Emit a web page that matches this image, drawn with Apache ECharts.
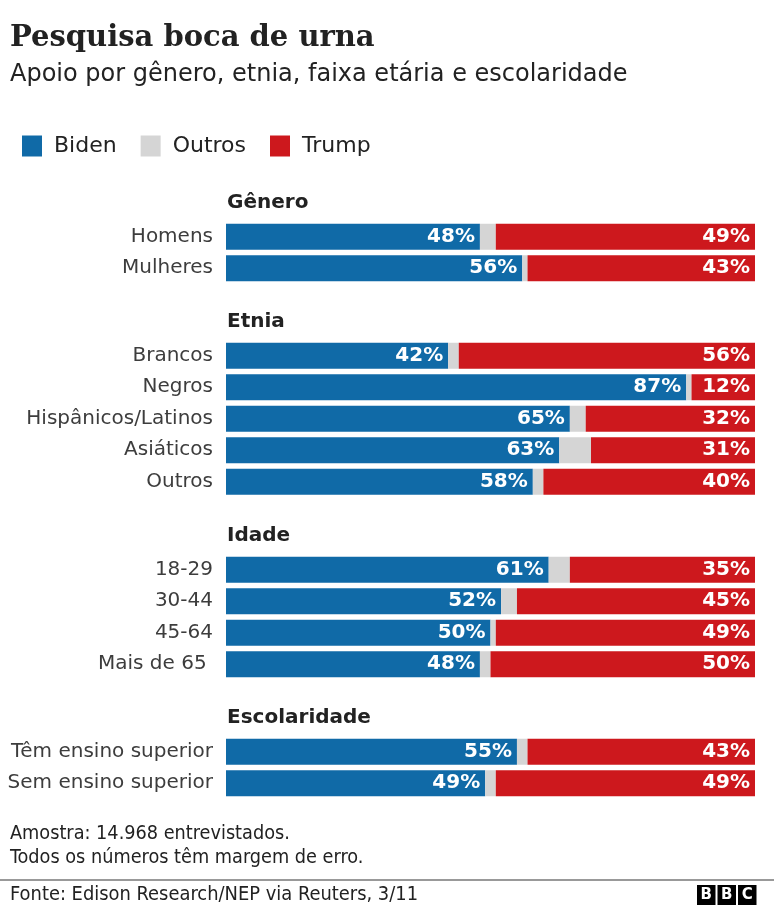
<!DOCTYPE html>
<html><head><meta charset="utf-8">
<script src="https://cdn.jsdelivr.net/npm/echarts@6/dist/echarts.min.js"></script>
<style>html,body{margin:0;padding:0;background:#fff}#c{width:774px;height:907px}</style>
</head><body><div id="c"></div>
<script>
const groupNames = ['Gênero', 'Etnia', 'Idade', 'Escolaridade'];
const generoCats = ['Homens', 'Mulheres'];
const generoBiden = [48, 56];
const generoOutros = [3, 1];
const generoTrump = [49, 43];
const etniaCats = ['Brancos', 'Negros', 'Hispânicos/Latinos', 'Asiáticos', 'Outros'];
const etniaBiden = [42, 87, 65, 63, 58];
const etniaOutros = [2, 1, 3, 6, 2];
const etniaTrump = [56, 12, 32, 31, 40];
const idadeCats = ['18-29', '30-44', '45-64', 'Mais de 65 '];
const idadeBiden = [61, 52, 50, 48];
const idadeOutros = [4, 3, 1, 2];
const idadeTrump = [35, 45, 49, 50];
const escolaCats = ['Têm ensino superior', 'Sem ensino superior'];
const escolaBiden = [55, 49];
const escolaOutros = [2, 2];
const escolaTrump = [43, 49];

const BLUE = '#106aa7', GREY = '#d5d5d5', RED = '#cd181d';
const FONT = '"DejaVu Sans", "Open Sans", sans-serif';
const COND = '"DejaVu Sans Condensed", "Liberation Sans Narrow", Roboto, sans-serif';
const groups = [
  {cats: generoCats, b: generoBiden, o: generoOutros, t: generoTrump, top: 221},
  {cats: etniaCats, b: etniaBiden, o: etniaOutros, t: etniaTrump, top: 340},
  {cats: idadeCats, b: idadeBiden, o: idadeOutros, t: idadeTrump, top: 554},
  {cats: escolaCats, b: escolaBiden, o: escolaOutros, t: escolaTrump, top: 736}
];
const ROW = 31.5;
const grid = [], xAxis = [], yAxis = [], series = [];
const titles = [
  {text: 'Pesquisa boca de urna', left: 10, top: 24, padding: 0, textStyle: {fontFamily: '"DejaVu Serif", serif', fontSize: 29, fontWeight: 'bold', color: '#222'}},
  {text: 'Apoio por gênero, etnia, faixa etária e escolaridade', left: 10, top: 63, padding: 0, textStyle: {fontFamily: FONT, fontSize: 24, fontWeight: 'normal', color: '#222'}},
  {text: 'Amostra: 14.968 entrevistados.', left: 10, top: 824, padding: 0, textStyle: {fontFamily: COND, fontSize: 19.7, fontWeight: 'normal', color: '#222'}},
  {text: 'Todos os números têm margem de erro.', left: 10, top: 848, padding: 0, textStyle: {fontFamily: COND, fontSize: 19.7, fontWeight: 'normal', color: '#222'}},
  {text: 'Fonte: Edison Research/NEP via Reuters, 3/11', left: 10, top: 885, padding: 0, textStyle: {fontFamily: COND, fontSize: 19.9, fontWeight: 'normal', color: '#222'}}
];
const labelStyle = {show: true, position: 'insideRight', distance: 5, color: '#fff', fontFamily: FONT, fontSize: 20, fontWeight: 'bold', formatter: p => p.value + '%'};
groups.forEach((g, i) => {
  grid.push({left: 226, right: 19, top: g.top, height: g.cats.length * ROW});
  titles.push({text: groupNames[i], left: 227, top: g.top - 28, padding: 0, textStyle: {fontFamily: FONT, fontSize: 20, fontWeight: 'bold', color: '#222'}});
  xAxis.push({type: 'value', gridIndex: i, min: 0, max: 100, show: false});
  yAxis.push({type: 'category', gridIndex: i, data: g.cats, inverse: true,
    axisLine: {show: false}, axisTick: {show: false}, splitLine: {show: false},
    axisLabel: {margin: 13, fontFamily: FONT, fontSize: 20, color: '#3d3d3d'}});
  const common = {type: 'bar', stack: 's' + i, xAxisIndex: i, yAxisIndex: i, barWidth: 26, animation: false};
  series.push(Object.assign({}, common, {name: 'Biden', data: g.b, itemStyle: {color: BLUE}, label: labelStyle}));
  series.push(Object.assign({}, common, {name: 'Outros', data: g.o, itemStyle: {color: GREY}}));
  series.push(Object.assign({}, common, {name: 'Trump', data: g.t, itemStyle: {color: RED}, label: labelStyle}));
});
const chart = echarts.init(document.getElementById('c'), null, {renderer: 'canvas'});
chart.setOption({
  animation: false,
  title: titles,
  legend: {data: ['Biden', 'Outros', 'Trump'], left: 22, top: 135, padding: 0, itemWidth: 20, itemHeight: 21, itemGap: 24, icon: 'rect',
    textStyle: {fontFamily: FONT, fontSize: 22, color: '#222', padding: [0, 0, 0, 7]}},
  grid, xAxis, yAxis, series,
  graphic: [
    {type: 'rect', shape: {x: 0, y: 879, width: 774, height: 2}, style: {fill: '#999'}},
    {type: 'group', left: 697, top: 885, children: [0, 1, 2].map(k => ({
      type: 'group', x: k * 20.5, children: [
        {type: 'rect', shape: {x: 0, y: 0, width: 18.5, height: 20}, style: {fill: '#000'}},
        {type: 'text', x: 9.25, y: 10.5, style: {text: 'BBC'[k], fill: '#fff', font: 'bold 15px "DejaVu Sans", sans-serif', textAlign: 'center', textVerticalAlign: 'middle'}}
      ]}))}
  ]
});
</script></body></html>
